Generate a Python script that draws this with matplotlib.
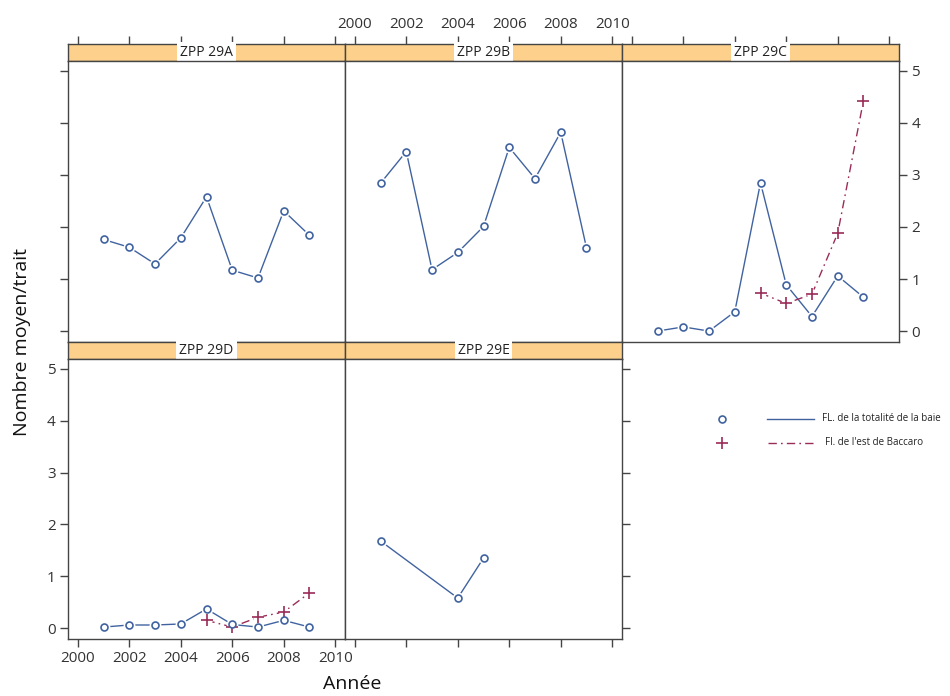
import numpy as np
import matplotlib
matplotlib.use('Agg')
import matplotlib.pyplot as plt
from matplotlib.lines import Line2D

plt.rcParams['font.family'] = ['Open Sans', 'DejaVu Sans']

# ── data ────────────────────────────────────────────────────────────────────
years      = [2001, 2002, 2003, 2004, 2005, 2006, 2007, 2008, 2009]
years_est  = [2005, 2006, 2007, 2008, 2009]
years_29e  = [2001, 2004, 2005]

zpp29a_total = [1.76, 1.61, 1.29, 1.79, 2.58, 1.17, 1.02, 2.31, 1.84]
zpp29b_total = [2.84, 3.45, 1.18, 1.51, 2.01, 3.53, 2.93, 3.82, 1.60]
zpp29c_total = [0.00, 0.08, 0.00, 0.37, 2.85, 0.89, 0.28, 1.06, 0.65]
zpp29c_est   = [0.73, 0.53, 0.71, 1.88, 4.43]
zpp29d_total = [0.02, 0.06, 0.06, 0.08, 0.37, 0.07, 0.02, 0.15, 0.02]
zpp29d_est   = [0.15, 0.02, 0.21, 0.31, 0.68]
zpp29e_total = [1.68, 0.58, 1.35]

panels = ['ZPP 29A', 'ZPP 29B', 'ZPP 29C', 'ZPP 29D', 'ZPP 29E']
series_total = {'ZPP 29A': (years, zpp29a_total), 'ZPP 29B': (years, zpp29b_total),
                'ZPP 29C': (years, zpp29c_total), 'ZPP 29D': (years, zpp29d_total),
                'ZPP 29E': (years_29e, zpp29e_total)}
series_est = {'ZPP 29C': (years_est, zpp29c_est), 'ZPP 29D': (years_est, zpp29d_est)}

label_total = 'FL. de la totalité de la baie'
label_est   = "Fl. de l'est de Baccaro"
xticks = [2000, 2002, 2004, 2006, 2008, 2010]
yticks = [0, 1, 2, 3, 4, 5]

BLUE  = '#4063a0'
RED   = '#9a2c58'
STRIP = '#fdd08c'
FRAME = '#444444'
DASH  = (0, (6, 3, 1.2, 3))

W, H = 950, 696
fig = plt.figure(figsize=(W / 100, H / 100), dpi=100)

def px_axes(l, t, w, h):
    return fig.add_axes([l / W, 1 - (t + h) / H, w / W, h / H])

# layout in pixels
lefts = [68, 345, 622]
pw, sh = 277, 17
strip_tops = [44, 342]
panel_h = [281, 280]
pos = {'ZPP 29A': (0, 0), 'ZPP 29B': (0, 1), 'ZPP 29C': (0, 2),
       'ZPP 29D': (1, 0), 'ZPP 29E': (1, 1)}
XLIM = (1999.62, 2010.38)
YLIM = (-0.21, 5.19)

def style_frame(ax):
    for s in ax.spines.values():
        s.set_color(FRAME)
        s.set_linewidth(1.0)
    ax.tick_params(colors=FRAME, labelcolor='#333333', length=6, width=1.0,
                   labelsize=11, pad=3, direction='out')

for name in panels:
    r, c = pos[name]
    top = strip_tops[r]
    sax = px_axes(lefts[c], top, pw, sh)
    ax = px_axes(lefts[c], top + sh, pw, panel_h[r])
    for a in (sax, ax):
        a.set_xlim(*XLIM)
        style_frame(a)
    ax.set_ylim(*YLIM)
    sax.set_ylim(0, 1)
    sax.set_facecolor(STRIP)
    sax.set_yticks([])
    sax.text(np.mean(XLIM), 0.5, name, ha='center', va='center', fontsize=10,
             color='#222222',
             bbox=dict(facecolor='white', edgecolor='none', pad=2.2))

    # x ticks: top row on strip top, bottom row on panel bottom
    sax.set_xticks(xticks)
    ax.set_xticks(xticks)
    ax.set_yticks(yticks)
    if r == 0:
        sax.tick_params(axis='x', bottom=False, labelbottom=False, top=True,
                        labeltop=(c == 1))
        ax.tick_params(axis='x', bottom=False, labelbottom=False)
    else:
        sax.tick_params(axis='x', bottom=False, labelbottom=False)
        ax.tick_params(axis='x', bottom=True, labelbottom=(c == 0))
    # y ticks: left on A (no labels) / D (labels), right on C (labels) / E (no labels)
    if name == 'ZPP 29A':
        ax.tick_params(axis='y', left=True, labelleft=False)
    elif name == 'ZPP 29D':
        ax.tick_params(axis='y', left=True, labelleft=True)
    elif name == 'ZPP 29C':
        ax.tick_params(axis='y', left=False, labelleft=False, right=True, labelright=True)
    elif name == 'ZPP 29E':
        ax.tick_params(axis='y', left=False, labelleft=False, right=True, labelright=False)
    else:
        ax.tick_params(axis='y', left=False, labelleft=False)

    xt, yt = series_total[name]
    ax.plot(xt, yt, color=BLUE, lw=1.0, zorder=2)
    if name in series_est:
        xe, ye = series_est[name]
        ax.plot(xe, ye, color=RED, lw=1.0, ls=DASH, zorder=2)
        ax.plot(xe, ye, ls='none', marker='o', ms=7.5, mfc='white', mec='none', zorder=3)
        ax.plot(xe, ye, ls='none', marker='+', ms=8, mew=1.2, color=RED, zorder=4)
    ax.plot(xt, yt, ls='none', marker='o', ms=8.5, mfc='white', mec='none', zorder=3)
    ax.plot(xt, yt, ls='none', marker='o', ms=5, mfc='white', mec=BLUE,
            mew=1.2, zorder=4)

# legend
lax = px_axes(700, 400, 250, 60)
lax.set_xlim(700, 950)
lax.set_ylim(460, 400)
lax.axis('off')
lax.add_line(Line2D([722], [419], ls='none', marker='o', ms=5, mfc='white',
                    mec=BLUE, mew=1.2))
lax.add_line(Line2D([767, 814], [419, 419], color=BLUE, lw=1.0))
lax.text(822, 419, label_total, fontsize=7, va='center', ha='left', color='#222222')
lax.add_line(Line2D([722], [443], ls='none', marker='+', ms=8, mew=1.2, color=RED))
lax.add_line(Line2D([768, 816], [443, 443], color=RED, lw=1.0, ls=DASH))
lax.text(825, 443, label_est, fontsize=7, va='center', ha='left', color='#222222')

fig.text(22 / W, 1 - 342 / H, 'Nombre moyen/trait', rotation=90, ha='center',
         va='center', fontsize=14, color='#111111')
fig.text(352 / W, 1 - 684 / H, 'Année', ha='center', va='center', fontsize=14,
         color='#111111')

fig.savefig('out.png', dpi=100)
